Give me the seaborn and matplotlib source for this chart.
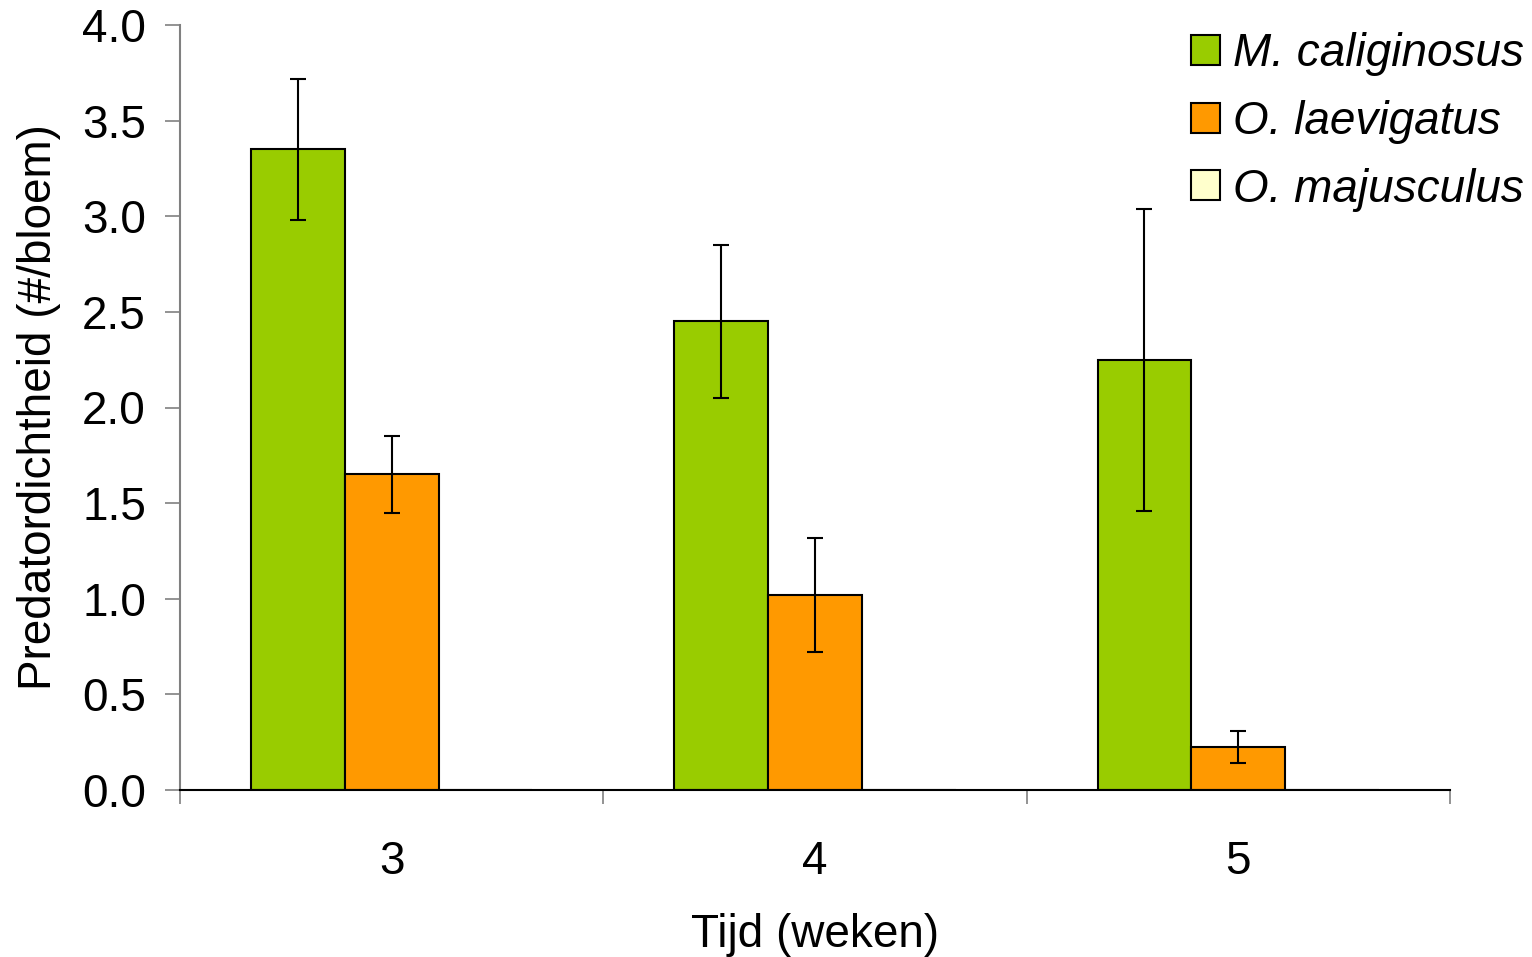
import matplotlib
matplotlib.use("Agg")
import matplotlib.pyplot as plt
import seaborn as sns
import pandas as pd
import numpy as np

# Predator density per flower over time
weeks = ["3", "4", "5"]
species = ["M. caliginosus", "O. laevigatus", "O. majusculus"]
m_caliginosus = [3.35, 2.45, 2.25]
m_caliginosus_err = [0.37, 0.40, 0.79]
o_laevigatus = [1.65, 1.02, 0.225]
o_laevigatus_err = [0.20, 0.30, 0.085]
o_majusculus = [0.0, 0.0, 0.0]
o_majusculus_err = [0.0, 0.0, 0.0]
colors = ["#99CC00", "#FF9900", "#FFFFCC"]

values = [m_caliginosus, o_laevigatus, o_majusculus]
errors = [m_caliginosus_err, o_laevigatus_err, o_majusculus_err]

df = pd.DataFrame({
    "week": np.tile(weeks, len(species)),
    "species": np.repeat(species, len(weeks)),
    "value": np.concatenate(values),
    "err": np.concatenate(errors),
})

sns.set_theme(style="white")
plt.rcParams["font.family"] = ["Liberation Sans", "DejaVu Sans"]
plt.rcParams["text.color"] = "black"
plt.rcParams["axes.labelcolor"] = "black"
plt.rcParams["xtick.labelcolor"] = "black"
plt.rcParams["ytick.labelcolor"] = "black"

fig = plt.figure(figsize=(15.32, 9.57), dpi=100)
ax = fig.add_axes([180 / 1532, 1 - 790 / 957, 1270 / 1532, 765 / 957])

sns.barplot(data=df, x="week", y="value", hue="species", order=weeks,
            hue_order=species, palette=colors, width=0.665, dodge=True,
            edgecolor="black", linewidth=1.5, errorbar=None, ax=ax,
            saturation=1)

# error bars on top of each bar, taken from the bar geometry
for container, sp in zip(ax.containers, species):
    sub = df[df["species"] == sp].set_index("week").loc[weeks]
    for patch, v, e in zip(container.patches, sub["value"], sub["err"]):
        if e > 0:
            xc = patch.get_x() + patch.get_width() / 2
            ax.errorbar(xc, v, yerr=e, fmt="none", ecolor="black",
                        elinewidth=1.5, capsize=6, capthick=1.5, zorder=5)

ax.set_xlim(-0.5, 2.5)
ax.set_ylim(0, 4.0)
ax.set_yticks(np.arange(0, 4.01, 0.5))
ax.set_yticklabels([f"{t:.1f}" for t in np.arange(0, 4.01, 0.5)])
ax.set_xticks([-0.5, 0.5, 1.5, 2.5], minor=True)

ax.tick_params(axis="y", which="major", direction="out", length=10.5,
               width=1.2, color="#808080", pad=14, labelsize=33, left=True)
ax.tick_params(axis="x", which="major", length=0, pad=36, labelsize=33)
ax.tick_params(axis="x", which="minor", direction="out", length=10,
               width=1.2, color="#808080", bottom=True)

for s in ["top", "right"]:
    ax.spines[s].set_visible(False)
ax.spines["left"].set_color("#808080")
ax.spines["left"].set_linewidth(1.5)
ax.spines["bottom"].set_color("black")
ax.spines["bottom"].set_linewidth(1.5)

ax.set_xlabel("Tijd (weken)", fontsize=33, labelpad=21)
ax.set_ylabel("Predatordichtheid (#/bloem)", fontsize=33, labelpad=15)

leg = ax.legend(loc="upper right", bbox_to_anchor=(1.073, 1.015), frameon=False,
                prop={"style": "italic", "size": 33}, handlelength=0.63,
                handleheight=0.63, handletextpad=0.3, labelspacing=0.52,
                borderaxespad=0)
for h in leg.legend_handles:
    h.set_edgecolor("black")
    h.set_linewidth(1.5)

fig.savefig("out.png", dpi=100)
